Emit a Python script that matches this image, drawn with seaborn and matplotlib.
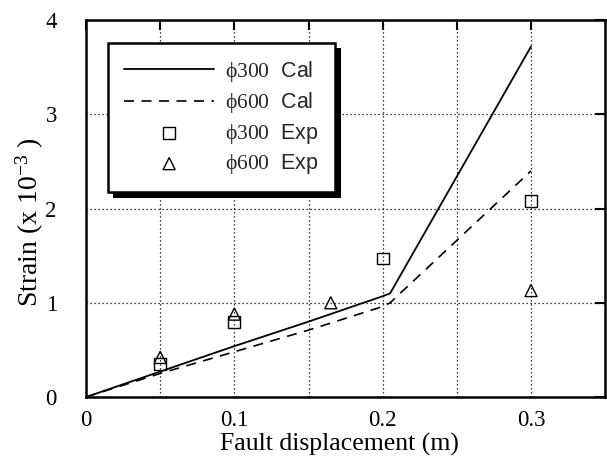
import matplotlib
matplotlib.use("Agg")
import matplotlib.pyplot as plt
import matplotlib.patheffects as pe
import seaborn as sns
import pandas as pd

# Calculated strain curves (strain in units of 1e-3)
cal_disp_300 = [0.0, 0.05, 0.10, 0.15, 0.20, 0.205, 0.30]
cal_strain_300 = [0.0, 0.27, 0.54, 0.80, 1.07, 1.10, 3.72]
cal_disp_600 = [0.0, 0.05, 0.10, 0.15, 0.20, 0.205, 0.30]
cal_strain_600 = [0.0, 0.25, 0.48, 0.71, 0.96, 1.00, 2.40]

# Measured strains
exp_disp_300 = [0.05, 0.10, 0.20, 0.30]
exp_strain_300 = [0.35, 0.80, 1.47, 2.08]
exp_disp_600 = [0.05, 0.10, 0.165, 0.30]
exp_strain_600 = [0.42, 0.88, 1.00, 1.13]

x_ticks = [0, 0.05, 0.1, 0.15, 0.2, 0.25, 0.3]
x_tick_labels = ["0", "", "0.1", "", "0.2", "", "0.3"]
y_ticks = [0, 1, 2, 3, 4]
y_tick_labels = ["0", "1", "2", "3", "4"]

sns.set_theme(style="white")
plt.rcParams["font.family"] = ["Liberation Serif", "DejaVu Serif"]
plt.rcParams["mathtext.fontset"] = "custom"
plt.rcParams["mathtext.rm"] = "Liberation Serif"
plt.rcParams["mathtext.it"] = "Liberation Serif:italic"
plt.rcParams["mathtext.bf"] = "Liberation Serif:bold"

fig = plt.figure(figsize=(6.07, 4.69), dpi=100)
ax = fig.add_axes([0.1417, 0.1535, 0.8553, 0.8035])

cal300 = pd.DataFrame({"disp": cal_disp_300, "strain": cal_strain_300})
cal600 = pd.DataFrame({"disp": cal_disp_600, "strain": cal_strain_600})
exp300 = pd.DataFrame({"disp": exp_disp_300, "strain": exp_strain_300})
exp600 = pd.DataFrame({"disp": exp_disp_600, "strain": exp_strain_600})

sns.lineplot(data=cal300, x="disp", y="strain", ax=ax, color="black",
             linewidth=1.3, sort=False, label=r"$\mathrm{ϕ300}$  Cal")
sns.lineplot(data=cal600, x="disp", y="strain", ax=ax, color="black",
             linewidth=1.2, sort=False, dashes=False, linestyle=(0, (6, 4.5)),
             label=r"$\mathrm{ϕ600}$  Cal")
sns.scatterplot(data=exp300, x="disp", y="strain", ax=ax, marker="s", s=72,
                facecolor="none", edgecolor="black", linewidth=1.0,
                label=r"$\mathrm{ϕ300}$  Exp")
sns.scatterplot(data=exp600, x="disp", y="strain", ax=ax, marker="^", s=75,
                facecolor="none", edgecolor="black", linewidth=1.0,
                label=r"$\mathrm{ϕ600}$  Exp")

ax.set_xlim(0, 0.35)
ax.set_ylim(0, 4)
ax.set_xticks(x_ticks)
ax.set_xticklabels(x_tick_labels)
ax.set_yticks(y_ticks)
ax.set_yticklabels(y_tick_labels)
ax.tick_params(direction="in", length=7, width=1.5, top=True, right=True,
               labelsize=16.5, colors="black")
ax.tick_params(axis="x", pad=9)
ax.tick_params(axis="y", pad=21)
ax.grid(True, color="black", linestyle=(0, (1, 2.2)), linewidth=0.9)
for s in ax.spines.values():
    s.set_color("black")
    s.set_linewidth(1.8)

ax.set_xlabel("Fault displacement (m)", fontsize=18.5, color="black", va="top")
ax.xaxis.set_label_coords(0.488, -0.095)
ax.set_ylabel(r"Strain (x 10$^{-3}$ )", fontsize=20, color="black")
ax.yaxis.set_label_coords(-0.078, 0.464)

leg = ax.legend(loc="upper left", bbox_to_anchor=(0.042, 0.94), borderaxespad=0,
                frameon=True, fancybox=False, edgecolor="black", framealpha=1,
                handlelength=4.2, handletextpad=0.5,
                labelspacing=0.3, borderpad=0.75, markerfirst=True,
                prop={"family": "Liberation Sans", "size": 15.5})
frame = leg.get_frame()
frame.set_linewidth(1.8)
frame.set_path_effects([pe.SimplePatchShadow(offset=(4, -4), shadow_rgbFace="black",
                                             alpha=1.0), pe.Normal()])

fig.savefig("out.png", dpi=100)
